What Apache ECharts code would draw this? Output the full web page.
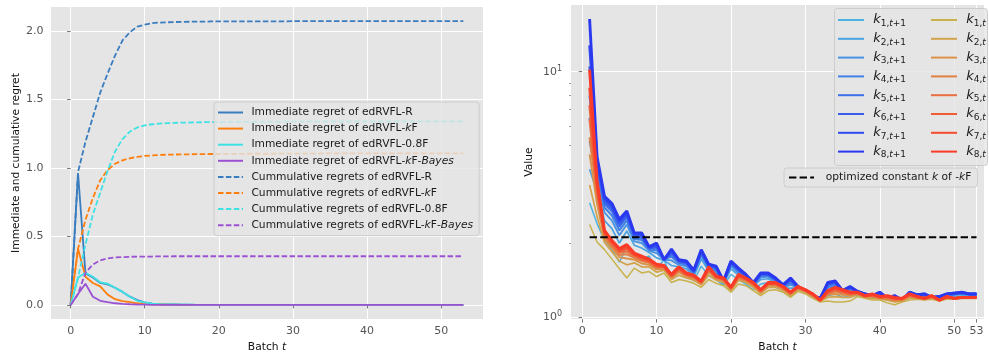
<!DOCTYPE html>
<html><head><meta charset="utf-8">
<script src="https://cdn.jsdelivr.net/npm/echarts@6/dist/echarts.min.js"></script>
<style>html,body{margin:0;padding:0;background:#fff}#c{width:989px;height:358px}</style>
</head><body><div id="c"></div>
<script>
// ---------------- data: left panel ----------------
const batchLeft = [0,1,2,3,4,5,6,7,8,9,10,11,12,13,14,15,16,17,18,19,20,21,22,23,24,25,26,27,28,29,30,31,32,33,34,35,36,37,38,39,40,41,42,43,44,45,46,47,48,49,50,51,52,53];
const immR = [0,0.96,0.23,0.2,0.16,0.15,0.125,0.095,0.06,0.035, 0.018,0.01,0.006,0.004,0.003,0.002,0.002,0.001,0.001,0.001, 0.001,0.001,0,0,0,0,0,0,0,0, 0,0,0,0,0,0,0,0,0,0, 0,0,0,0,0,0,0,0,0,0, 0,0,0,0];
const immKF = [0,0.41,0.205,0.16,0.135,0.075,0.042,0.027,0.02,0.012, 0.006,0.004,0.003,0.002,0.002,0.001,0.001,0.001,0,0, 0,0,0,0,0,0,0,0,0,0, 0,0,0,0,0,0,0,0,0,0, 0,0,0,0,0,0,0,0,0,0, 0,0,0,0];
const imm08F = [0,0.2,0.235,0.205,0.165,0.155,0.125,0.095,0.06,0.03, 0.018,0.01,0.006,0.004,0.003,0.002,0.002,0.001,0.001,0.001, 0.001,0.001,0,0,0,0,0,0,0,0, 0,0,0,0,0,0,0,0,0,0, 0,0,0,0,0,0,0,0,0,0, 0,0,0,0];
const immBayes = [0,0.08,0.155,0.06,0.03,0.02,0.012,0.008,0.005,0.003, 0.002,0.001,0.001,0,0,0,0,0,0,0, 0,0,0,0,0,0,0,0,0,0, 0,0,0,0,0,0,0,0,0,0, 0,0,0,0,0,0,0,0,0,0, 0,0,0,0];
const cumR = [0,0.97,1.19,1.37,1.55,1.69,1.82,1.93,1.99,2.03, 2.045,2.055,2.06,2.062,2.064,2.065,2.066,2.067,2.067,2.068, 2.068,2.068,2.068,2.069,2.069,2.069,2.069,2.069,2.069,2.069, 2.07,2.07,2.07,2.07,2.07,2.07,2.07,2.07,2.07,2.07, 2.07,2.07,2.07,2.07,2.07,2.07,2.07,2.07,2.07,2.07, 2.07,2.07,2.07,2.07];
const cumKF = [0,0.41,0.62,0.78,0.91,0.985,1.03,1.055,1.07,1.08, 1.087,1.091,1.094,1.096,1.097,1.098,1.099,1.1,1.1,1.101, 1.101,1.102,1.102,1.102,1.103,1.103,1.103,1.103,1.104,1.104, 1.104,1.104,1.104,1.104,1.105,1.105,1.105,1.105,1.105,1.105, 1.105,1.105,1.105,1.105,1.105,1.105,1.105,1.105,1.105,1.105, 1.105,1.105,1.105,1.105];
const cum08F = [0,0.2,0.44,0.66,0.82,0.98,1.12,1.21,1.265,1.295, 1.31,1.318,1.323,1.326,1.328,1.33,1.331,1.332,1.333,1.333, 1.334,1.334,1.335,1.335,1.335,1.336,1.336,1.336,1.336,1.337, 1.337,1.337,1.337,1.337,1.338,1.338,1.338,1.338,1.338,1.338, 1.338,1.338,1.338,1.338,1.338,1.338,1.338,1.338,1.338,1.338, 1.338,1.338,1.338,1.338];
const cumBayes = [0,0.08,0.235,0.295,0.325,0.34,0.346,0.349,0.351,0.352, 0.353,0.353,0.354,0.354,0.355,0.355,0.355,0.355,0.355,0.355, 0.355,0.355,0.355,0.355,0.355,0.355,0.355,0.355,0.355,0.355, 0.355,0.355,0.355,0.355,0.355,0.355,0.355,0.355,0.355,0.355, 0.355,0.355,0.355,0.355,0.355,0.355,0.355,0.355,0.355,0.355, 0.355,0.355,0.355,0.355];
const leftNames = ['Immediate regret of edRVFL-R','Immediate regret of edRVFL-kF','Immediate regret of edRVFL-0.8F','Immediate regret of edRVFL-kF-Bayes','Cummulative regrets of edRVFL-R','Cummulative regrets of edRVFL-kF','Cummulative regrets of edRVFL-0.8F','Cummulative regrets of edRVFL-kF-Bayes'];
const leftTicksX = [0,10,20,30,40,50];
const leftTicksY = [0,0.5,1,1.5,2];

// ---------------- data: right panel ----------------
const batchRight = [1,2,3,4,5,6,7,8,9,10,11,12,13,14,15,16,17,18,19,20,21,22,23,24,25,26,27,28,29,30,31,32,33,34,35,36,37,38,39,40,41,42,43,44,45,46,47,48,49,50,51,52,53];
const k1Next = [2.92,2.4,2.05,1.88,1.67,1.93,1.80,1.72,1.77,1.57, 1.71,1.44,1.53,1.49,1.40,1.61,1.47,1.42,1.34,1.49, 1.42,1.36,1.29,1.36,1.38,1.32,1.28,1.22,1.30,1.26, 1.21,1.16,1.22,1.24,1.20,1.22,1.22,1.20,1.19,1.20, 1.17,1.18,1.16,1.20,1.19,1.19,1.18,1.19,1.20,1.21, 1.22,1.22,1.22];
const k2Next = [4.0,3.24,2.47,2.29,2.00,2.24,1.96,1.91,1.83,1.74, 1.70,1.62,1.60,1.57,1.46,1.72,1.54,1.50,1.36,1.57, 1.48,1.41,1.33,1.42,1.43,1.37,1.31,1.31,1.31,1.27, 1.21,1.17,1.28,1.30,1.23,1.26,1.24,1.22,1.20,1.22, 1.18,1.20,1.16,1.22,1.21,1.21,1.19,1.20,1.22,1.23, 1.24,1.23,1.23];
const k3Next = [5.2,3.62,2.66,2.47,2.15,2.38,2.03,2.00,1.86,1.82, 1.71,1.70,1.63,1.61,1.49,1.77,1.57,1.53,1.37,1.61, 1.51,1.44,1.34,1.45,1.46,1.39,1.32,1.35,1.32,1.27, 1.22,1.18,1.31,1.33,1.25,1.28,1.25,1.22,1.21,1.23, 1.18,1.20,1.16,1.23,1.21,1.22,1.19,1.20,1.22,1.23, 1.24,1.23,1.23];
const k4Next = [6.5,3.87,2.79,2.59,2.25,2.47,2.08,2.06,1.88,1.87, 1.72,1.76,1.66,1.63,1.51,1.80,1.59,1.55,1.38,1.63, 1.53,1.45,1.35,1.47,1.47,1.40,1.33,1.37,1.32,1.27, 1.22,1.18,1.33,1.35,1.26,1.30,1.26,1.23,1.21,1.24, 1.18,1.21,1.17,1.24,1.22,1.22,1.19,1.20,1.23,1.24, 1.25,1.23,1.23];
const k5Next = [8.0,4.08,2.89,2.70,2.33,2.55,2.12,2.10,1.90,1.91, 1.71,1.80,1.67,1.65,1.52,1.83,1.61,1.57,1.39,1.65, 1.55,1.46,1.36,1.48,1.48,1.42,1.34,1.40,1.32,1.28, 1.22,1.18,1.35,1.37,1.26,1.31,1.26,1.23,1.21,1.25, 1.19,1.21,1.17,1.25,1.22,1.23,1.20,1.21,1.23,1.24, 1.25,1.24,1.24];
const k6Next = [10.5,4.23,2.96,2.77,2.39,2.60,2.15,2.14,1.91,1.94, 1.72,1.83,1.69,1.66,1.53,1.84,1.62,1.59,1.39,1.66, 1.56,1.47,1.37,1.49,1.49,1.42,1.34,1.41,1.33,1.28, 1.22,1.19,1.36,1.38,1.27,1.32,1.26,1.23,1.22,1.25, 1.19,1.21,1.17,1.25,1.22,1.23,1.20,1.21,1.23,1.24, 1.25,1.24,1.24];
const k7Next = [12.8,4.37,3.04,2.84,2.45,2.65,2.18,2.17,1.92,1.97, 1.71,1.86,1.70,1.68,1.54,1.86,1.63,1.60,1.40,1.68, 1.57,1.48,1.37,1.50,1.50,1.43,1.35,1.43,1.33,1.28, 1.22,1.19,1.37,1.39,1.28,1.32,1.27,1.24,1.22,1.26, 1.19,1.22,1.17,1.26,1.23,1.24,1.20,1.21,1.24,1.25, 1.26,1.24,1.24];
const k8Next = [16.4,4.5,3.1,2.9,2.5,2.7,2.2,2.2,1.93,2.0, 1.71,1.89,1.71,1.69,1.55,1.88,1.64,1.61,1.40,1.69, 1.58,1.49,1.38,1.51,1.51,1.44,1.35,1.44,1.33,1.28, 1.22,1.19,1.38,1.40,1.28,1.33,1.27,1.24,1.22,1.26, 1.19,1.22,1.17,1.26,1.23,1.24,1.20,1.21,1.24,1.25, 1.26,1.24,1.24];
const k1Cur = [2.38,2.02,1.88,1.72,1.57,1.44,1.58,1.51,1.53,1.46, 1.51,1.38,1.42,1.40,1.37,1.32,1.42,1.37,1.34,1.26, 1.36,1.34,1.28,1.22,1.28,1.29,1.26,1.20,1.27,1.24, 1.19,1.15,1.16,1.15,1.15,1.16,1.21,1.19,1.17,1.17, 1.14,1.12,1.15,1.17,1.18,1.17,1.18,1.16,1.18,1.18, 1.19,1.19,1.19];
const k2Cur = [3.45,2.57,2.01,1.84,1.69,1.63,1.66,1.60,1.60,1.52, 1.55,1.42,1.48,1.44,1.41,1.35,1.48,1.41,1.38,1.28, 1.41,1.38,1.32,1.24,1.32,1.32,1.28,1.22,1.29,1.26, 1.21,1.16,1.20,1.21,1.20,1.20,1.23,1.20,1.19,1.18, 1.17,1.15,1.16,1.19,1.19,1.18,1.19,1.16,1.19,1.18, 1.19,1.19,1.19];
const k3Cur = [4.6,2.89,2.08,1.90,1.75,1.73,1.71,1.65,1.63,1.56, 1.57,1.44,1.52,1.46,1.43,1.36,1.52,1.43,1.40,1.29, 1.43,1.40,1.34,1.26,1.34,1.34,1.30,1.23,1.30,1.27, 1.22,1.16,1.23,1.24,1.23,1.22,1.24,1.21,1.21,1.19, 1.18,1.16,1.17,1.21,1.20,1.18,1.20,1.17,1.20,1.19, 1.20,1.20,1.20];
const k4Cur = [5.4,3.09,2.13,1.94,1.79,1.80,1.74,1.69,1.66,1.58, 1.58,1.45,1.54,1.47,1.44,1.37,1.54,1.44,1.41,1.30, 1.45,1.41,1.35,1.27,1.35,1.35,1.31,1.24,1.31,1.27, 1.22,1.16,1.24,1.27,1.25,1.23,1.24,1.21,1.22,1.20, 1.19,1.17,1.18,1.22,1.20,1.18,1.21,1.17,1.20,1.19, 1.20,1.20,1.20];
const k5Cur = [6.4,3.25,2.17,1.98,1.83,1.85,1.77,1.71,1.68,1.60, 1.60,1.47,1.56,1.49,1.46,1.38,1.56,1.45,1.42,1.31, 1.46,1.42,1.36,1.27,1.36,1.36,1.31,1.25,1.32,1.28, 1.23,1.17,1.25,1.28,1.26,1.24,1.25,1.21,1.22,1.20, 1.20,1.18,1.18,1.22,1.20,1.19,1.21,1.17,1.20,1.19, 1.20,1.20,1.20];
const k6Cur = [7.3,3.38,2.20,2.00,1.85,1.90,1.79,1.73,1.69,1.61, 1.60,1.47,1.57,1.49,1.46,1.39,1.57,1.46,1.43,1.31, 1.47,1.43,1.37,1.28,1.37,1.37,1.32,1.25,1.32,1.28, 1.23,1.17,1.26,1.30,1.27,1.25,1.25,1.22,1.23,1.20, 1.21,1.19,1.18,1.23,1.21,1.19,1.21,1.17,1.21,1.19, 1.20,1.20,1.20];
const k7Cur = [8.6,3.49,2.22,2.03,1.88,1.93,1.80,1.75,1.71,1.63, 1.61,1.48,1.59,1.50,1.47,1.39,1.59,1.46,1.43,1.32, 1.48,1.43,1.37,1.29,1.37,1.37,1.33,1.26,1.33,1.29, 1.24,1.17,1.27,1.31,1.28,1.25,1.26,1.22,1.23,1.21, 1.21,1.19,1.19,1.24,1.21,1.19,1.22,1.17,1.21,1.19, 1.20,1.20,1.20];
const k8Cur = [10.2,3.6,2.25,2.05,1.9,1.97,1.82,1.77,1.72,1.64, 1.62,1.49,1.60,1.51,1.48,1.40,1.60,1.47,1.44,1.32, 1.49,1.44,1.38,1.29,1.38,1.38,1.33,1.26,1.33,1.29, 1.24,1.17,1.28,1.32,1.29,1.26,1.26,1.22,1.24,1.21, 1.22,1.20,1.19,1.24,1.21,1.19,1.22,1.17,1.21,1.19, 1.20,1.20,1.20];
const optimizedK = 2.11;
const rightTicksX = [0,10,20,30,40,50,53];
const rightTicksY = [1,10];
const rightMinorY = [2,3,4,5,6,7,8,9];

// ---------------- styles ----------------
const FONT = 'DejaVu Sans';
const leftColors = ['#3a7dbf','#ff7f0e','#3fe2e4','#9b52d2'];
const nextColors = ['#4eb2e0','#4aa3e2','#4793e4','#4483e6','#3f71e9','#385eeb','#304aed','#2a39ef'];
const curColors = ['#c8b24c','#d2a34a','#da9348','#e28146','#e96f40','#ef5c38','#f54a30','#fb3a28'];
const kWidths = [1.5,1.7,1.9,2.1,2.3,2.5,2.7,2.9];
const DASH = [5.5,2.4];

function pairs(xs, ys){ return ys.map((v,i)=>[xs[i], v]); }

const leftVals = [immR, immKF, imm08F, immBayes, cumR, cumKF, cum08F, cumBayes];
const series = [];
leftVals.forEach((vals, i) => {
  const col = leftColors[i % 4];
  series.push({
    type:'line', name:leftNames[i], xAxisIndex:0, yAxisIndex:0,
    data:pairs(batchLeft, vals), symbol:'none', showSymbol:false, silent:true,
    lineStyle:{color:col, width:1.8, type: i < 4 ? 'solid' : DASH},
    itemStyle:{color:col}, z:2
  });
});
const nextVals = [k1Next,k2Next,k3Next,k4Next,k5Next,k6Next,k7Next,k8Next];
const curVals = [k1Cur,k2Cur,k3Cur,k4Cur,k5Cur,k6Cur,k7Cur,k8Cur];
const nextNames = [], curNames = [];
nextVals.forEach((vals, i) => {
  const nm = 'k' + (i+1) + ',t+1'; nextNames.push(nm);
  series.push({type:'line', name:nm, xAxisIndex:1, yAxisIndex:1, data:pairs(batchRight, vals),
    symbol:'none', showSymbol:false, silent:true,
    lineStyle:{color:nextColors[i], width:kWidths[i]}, itemStyle:{color:nextColors[i]}, z:2});
});
curVals.forEach((vals, i) => {
  const nm = 'k' + (i+1) + ',t'; curNames.push(nm);
  series.push({type:'line', name:nm, xAxisIndex:1, yAxisIndex:1, data:pairs(batchRight, vals),
    symbol:'none', showSymbol:false, silent:true,
    lineStyle:{color:curColors[i], width:kWidths[i]}, itemStyle:{color:curColors[i]}, z:2});
});
series.push({type:'line', name:'optK', xAxisIndex:1, yAxisIndex:1,
  data:[[batchRight[0], optimizedK],[batchRight[batchRight.length-1], optimizedK]],
  symbol:'none', showSymbol:false, silent:true,
  lineStyle:{color:'#000', width:2, type:[7.4,3.2]}, itemStyle:{color:'#000'}, z:3});

const tickLabel = {fontFamily:FONT, fontSize:11, color:'#555555'};
const nameRich = {
  n:{fontFamily:FONT, fontSize:10.7, color:'#111'},
  i:{fontFamily:FONT, fontSize:10.7, fontStyle:'italic', color:'#111'}
};
const legendRich = {
  n:{fontFamily:FONT, fontSize:10.7, color:'#1a1a1a', lineHeight:12},
  i:{fontFamily:FONT, fontSize:10.7, fontStyle:'italic', color:'#1a1a1a', lineHeight:12}
};
const kRich = {
  k:{fontFamily:FONT, fontSize:13, fontStyle:'italic', color:'#1a1a1a', lineHeight:16},
  s:{fontFamily:FONT, fontSize:9, color:'#1a1a1a', lineHeight:9, verticalAlign:'bottom'},
  si:{fontFamily:FONT, fontSize:9, fontStyle:'italic', color:'#1a1a1a', lineHeight:9, verticalAlign:'bottom'}
};
const leftFmt = {
  'Immediate regret of edRVFL-R':'{n| Immediate regret of edRVFL-R}',
  'Immediate regret of edRVFL-kF':'{n| Immediate regret of edRVFL-}{i|k}{n|F}',
  'Immediate regret of edRVFL-0.8F':'{n| Immediate regret of edRVFL-0.8F}',
  'Immediate regret of edRVFL-kF-Bayes':'{n| Immediate regret of edRVFL-}{i|k}{n|F-}{i|Bayes}',
  'Cummulative regrets of edRVFL-R':'{n| Cummulative regrets of edRVFL-R}',
  'Cummulative regrets of edRVFL-kF':'{n| Cummulative regrets of edRVFL-}{i|k}{n|F}',
  'Cummulative regrets of edRVFL-0.8F':'{n| Cummulative regrets of edRVFL-0.8F}',
  'Cummulative regrets of edRVFL-kF-Bayes':'{n| Cummulative regrets of edRVFL-}{i|k}{n|F-}{i|Bayes}'
};
function kFmt(name){
  const m = name.match(/^k(\d+),t(\+1)?$/);
  return '{k| k}{s|' + m[1] + ',}{si|t}' + (m[2] ? '{s|+1}' : '');
}
const hiddenSymbol = {opacity:0, borderWidth:0};

const option = {
  animation:false,
  backgroundColor:'#ffffff',
  grid:[
    {left:51, top:7, width:432, height:314, show:true, backgroundColor:'#E5E5E5', borderWidth:0},
    {left:571, top:5, width:413, height:315, show:true, backgroundColor:'#E5E5E5', borderWidth:0}
  ],
  xAxis:[
    {type:'value', gridIndex:0, min:-2.65, max:55.65,
     axisLine:{show:false},
     axisTick:{show:true, length:3.5, customValues:leftTicksX, lineStyle:{color:'#555', width:0.8}},
     axisLabel:{...tickLabel, customValues:leftTicksX, margin:7},
     splitLine:{show:true, lineStyle:{color:'#ffffff', width:1}},
     name:'{n|Batch }{i|t}', nameLocation:'middle', nameGap:20, nameTextStyle:{rich:nameRich}},
    {type:'value', gridIndex:1, min:-1.5, max:54,
     axisLine:{show:false},
     axisTick:{show:true, length:3.5, customValues:rightTicksX, lineStyle:{color:'#555', width:0.8}},
     axisLabel:{...tickLabel, customValues:rightTicksX, margin:7},
     splitLine:{show:true, lineStyle:{color:'#ffffff', width:1}},
     name:'{n|Batch }{i|t}', nameLocation:'middle', nameGap:20, nameTextStyle:{rich:nameRich}}
  ],
  yAxis:[
    {type:'value', gridIndex:0, min:-0.1035, max:2.1735,
     axisLine:{show:false},
     axisTick:{show:true, length:3.5, customValues:leftTicksY, lineStyle:{color:'#555', width:0.8}},
     axisLabel:{...tickLabel, customValues:leftTicksY, margin:7.5, formatter:v=>v.toFixed(1)},
     splitLine:{show:true, lineStyle:{color:'#ffffff', width:1}},
     name:'Immediate and cumulative regret', nameLocation:'middle', nameGap:29,
     nameTextStyle:{fontFamily:FONT, fontSize:10.7, color:'#111'}},
    {type:'log', logBase:10, gridIndex:1, position:'left', min:0.979, max:18.7,
     axisLine:{show:false},
     axisTick:{show:true, length:3.5, customValues:rightTicksY, lineStyle:{color:'#555', width:0.8}},
     axisLabel:{customValues:rightTicksY, margin:9,
       formatter:v=>'{b|10}{e|' + Math.round(Math.log10(v)) + '}',
       rich:{b:{fontFamily:FONT, fontSize:11, color:'#555555', lineHeight:14},
             e:{fontFamily:FONT, fontSize:8, color:'#555555', lineHeight:8, verticalAlign:'top'}}},
     splitLine:{show:true, lineStyle:{color:'#ffffff', width:1}},
     name:'Value', nameLocation:'middle', nameGap:36,
     nameTextStyle:{fontFamily:FONT, fontSize:10.7, color:'#111'}},
    {type:'log', logBase:10, gridIndex:1, position:'left', offset:0, min:0.979, max:18.7,
     axisLine:{show:false},
     axisTick:{show:true, length:2, customValues:rightMinorY, lineStyle:{color:'#555', width:0.6}},
     axisLabel:{show:false}, splitLine:{show:false}}
  ],
  graphic:[
    {type:'rect', left:834, top:8, z:3, silent:true,
     shape:{width:153, height:157, r:3},
     style:{fill:'rgba(229,229,229,0.8)', stroke:'#cccccc', lineWidth:1}}
  ],
  legend:[
    {data:leftNames, left:214, top:102, orient:'vertical', selectedMode:false,
     itemWidth:25, itemHeight:10, itemGap:5.1, padding:[5,6,5,3],
     itemStyle:hiddenSymbol,
     backgroundColor:'rgba(229,229,229,0.8)', borderColor:'#cccccc', borderWidth:1, borderRadius:3,
     formatter:n=>leftFmt[n], textStyle:{rich:legendRich}},
    {data:nextNames, left:837, top:13.5, orient:'vertical', selectedMode:false,
     itemWidth:26, itemHeight:10, itemGap:4.3, padding:0, itemStyle:hiddenSymbol,
     lineStyle:{width:2}, formatter:kFmt, textStyle:{rich:kRich}},
    {data:curNames, left:930, top:13.5, orient:'vertical', selectedMode:false,
     itemWidth:26, itemHeight:10, itemGap:4.3, padding:0, itemStyle:hiddenSymbol,
     lineStyle:{width:2}, formatter:kFmt, textStyle:{rich:kRich}},
    {data:['optK'], left:784, top:168, orient:'vertical', selectedMode:false,
     itemWidth:25, itemHeight:10, padding:[4,6,4,4], itemStyle:hiddenSymbol,
     backgroundColor:'rgba(229,229,229,0.8)', borderColor:'#cccccc', borderWidth:1, borderRadius:3,
     formatter:()=>'{n|  optimized constant }{i|k}{n| of -}{i|k}{n|F}', textStyle:{rich:legendRich}}
  ],
  series:series
};
const chart = echarts.init(document.getElementById('c'), null, {renderer:'canvas', width:989, height:358});
chart.setOption(option);
</script>
</body></html>
